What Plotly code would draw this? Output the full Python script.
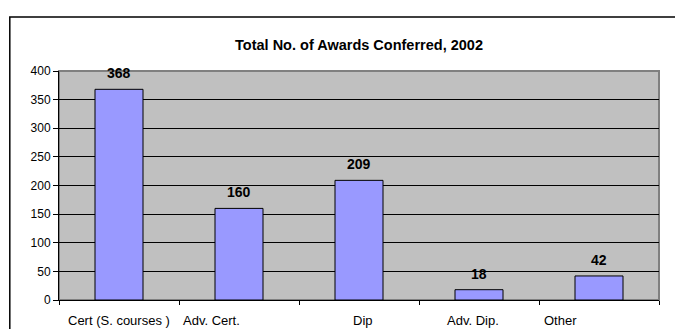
import plotly.graph_objects as go

categories = ["Cert (S. courses )", "Adv. Cert.", "Dip", "Adv. Dip.", "Other"]
values = [368, 160, 209, 18, 42]
tick_vals = [0, 50, 100, 150, 200, 250, 300, 350, 400]
# horizontal offsets (px) of the category labels, as in the original layout
label_shift = [0, -28, 4, -6, -39]

FONT = "Liberation Sans Narrow, Arial Narrow, Liberation Sans, Arial, sans-serif"

fig = go.Figure()
fig.add_trace(go.Bar(
    x=categories, y=values, width=0.4,
    marker=dict(color="#9999FF", line=dict(color="black", width=1)),
    hoverinfo="x+y",
))

for c, v in zip(categories, values):
    fig.add_annotation(x=c, y=v, text="<b>%d</b>" % v, showarrow=False,
                       yanchor="bottom", yshift=6,
                       font=dict(family=FONT, size=14, color="black"))

for c, s in zip(categories, label_shift):
    fig.add_annotation(x=c, y=0, text=c, showarrow=False, yanchor="top",
                       yshift=-11, xshift=s,
                       font=dict(family=FONT, size=13, color="black"))

# outer chart border (extends beyond the window on right and bottom)
fig.add_shape(type="rect", xref="paper", yref="paper",
              x0=-0.082, x1=1.2, y0=-0.5, y1=1.236,
              line=dict(color="black", width=1.5), fillcolor="rgba(0,0,0,0)",
              layer="below")
# plot area border (top/right gray)
fig.add_shape(type="rect", xref="paper", yref="paper",
              x0=0, x1=1, y0=0, y1=1,
              line=dict(color="#808080", width=2), fillcolor="rgba(0,0,0,0)",
              layer="below")

fig.update_layout(
    width=675, height=329,
    margin=dict(l=59, r=16, t=71, b=29),
    paper_bgcolor="white", plot_bgcolor="#C0C0C0",
    showlegend=False, bargap=0.6,
    title=dict(text="<b>Total No. of Awards Conferred, 2002</b>",
               x=(59 + 659) / 2 / 675, xanchor="center", y=1 - 45 / 329, yanchor="middle",
               font=dict(family=FONT, size=14.5, color="black")),
    font=dict(family=FONT, size=13, color="black"),
)
fig.update_xaxes(showticklabels=False, ticks="outside", tickson="boundaries",
                 ticklen=4, tickcolor="black", showline=True, linecolor="black",
                 linewidth=1, showgrid=False, fixedrange=True)
fig.update_yaxes(range=[0, 400], tickvals=tick_vals, ticks="outside", ticklen=5,
                 tickcolor="black", showline=True, linecolor="black", linewidth=1,
                 showgrid=True, gridcolor="black", gridwidth=1.3, zeroline=False,
                 tickfont=dict(family="Liberation Sans, Arial, sans-serif", size=12),
                 fixedrange=True)

fig.write_html("out.html")
